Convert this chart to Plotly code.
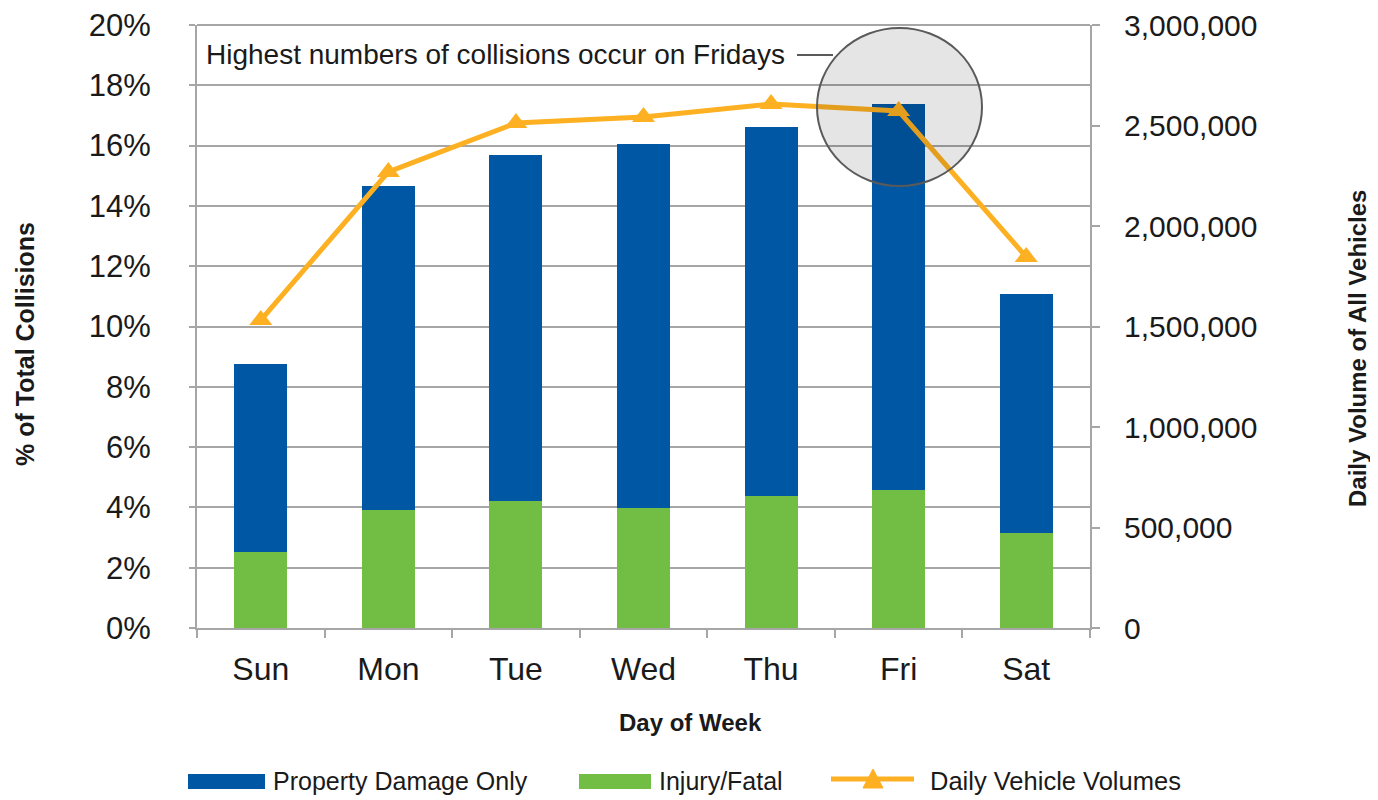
import plotly.graph_objects as go

days = ["Sun", "Mon", "Tue", "Wed", "Thu", "Fri", "Sat"]
injury_fatal = [2.52, 3.91, 4.21, 3.98, 4.38, 4.58, 3.15]
property_damage = [6.24, 10.75, 11.48, 12.07, 12.24, 12.80, 7.93]
daily_volumes = [1532000, 2269000, 2512000, 2542000, 2607000, 2572000, 1846000]

left_ticks = list(range(0, 21, 2))
left_ticktext = [f"{v}%" for v in left_ticks]
right_ticks = [0, 500000, 1000000, 1500000, 2000000, 2500000, 3000000]
right_ticktext = ["0", "500,000", "1,000,000", "1,500,000", "2,000,000", "2,500,000", "3,000,000"]

BLUE = "#0057A4"
GREEN = "#72BE44"
ORANGE = "#FDB022"
GRID = "#A6A6A6"
TXT = "#1A1A1A"
REG = "Liberation Sans, Arial, sans-serif"

# page offset (browser body margin)
OFF = 8
# plot area in reference pixel coordinates
PL, PR, PT, PB = 197, 1090, 25, 628
PW = PR - PL
PH = PB - PT
W, H = 1378 - 2 * OFF, 800 - OFF
mL = PL - OFF
mT = PT - OFF
mR = W - mL - PW
mB = H - mT - PH


def px(x):
    return (x - PL) / PW


def py(y):
    return (PB - y) / PH


fig = go.Figure()
fig.add_trace(go.Bar(x=days, y=injury_fatal, name="Injury/Fatal", marker=dict(color=GREEN, line=dict(width=0))))
fig.add_trace(go.Bar(x=days, y=property_damage, name="Property Damage Only", marker=dict(color=BLUE, line=dict(width=0))))
fig.add_trace(go.Scatter(x=days, y=daily_volumes, name="Daily Vehicle Volumes", yaxis="y2",
                         mode="lines+markers", line=dict(color=ORANGE, width=5),
                         marker=dict(symbol="triangle-up", size=20, color=ORANGE)))

shapes = []
annotations = []

# top border gridline (20%)
shapes.append(dict(type="line", xref="paper", yref="paper", layer="below",
                   x0=0, x1=1, y0=1, y1=1, line=dict(color=GRID, width=2)))

# highlight circle and connector
shapes.append(dict(type="circle", xref="paper", yref="paper", layer="above",
                   x0=px(817), x1=px(982), y0=py(186), y1=py(28),
                   fillcolor="rgba(0,0,0,0.1)", line=dict(color="#5A5A5A", width=2)))
shapes.append(dict(type="line", xref="paper", yref="paper", layer="above",
                   x0=px(797), x1=px(833), y0=py(55), y1=py(55),
                   line=dict(color="#5A5A5A", width=2)))
annotations.append(dict(text="Highest numbers of collisions occur on Fridays", xref="paper", yref="paper",
                        x=px(204), y=py(54), xanchor="left", yanchor="middle", showarrow=False,
                        font=dict(family=REG, size=28, color=TXT)))

# axis titles
annotations.append(dict(text="<b>% of Total Collisions</b>", xref="paper", yref="paper",
                        x=px(25), y=py(344), textangle=-90, showarrow=False,
                        xanchor="center", yanchor="middle",
                        font=dict(family=REG, size=25, color=TXT)))
annotations.append(dict(text="<b>Daily Volume of All Vehicles</b>", xref="paper", yref="paper",
                        x=px(1357), y=py(349), textangle=-90, showarrow=False,
                        xanchor="center", yanchor="middle",
                        font=dict(family=REG, size=24, color=TXT)))
annotations.append(dict(text="<b>Day of Week</b>", xref="paper", yref="paper",
                        x=px(690), y=py(722), showarrow=False,
                        xanchor="center", yanchor="middle",
                        font=dict(family=REG, size=24, color=TXT)))

# custom legend
LY = 781
shapes.append(dict(type="rect", xref="paper", yref="paper", x0=px(188), x1=px(265), y0=py(789), y1=py(774),
                   fillcolor=BLUE, line=dict(width=0)))
annotations.append(dict(text="Property Damage Only", xref="paper", yref="paper", x=px(271), y=py(LY),
                        xanchor="left", yanchor="middle", showarrow=False,
                        font=dict(family=REG, size=25, color=TXT)))
shapes.append(dict(type="rect", xref="paper", yref="paper", x0=px(579), x1=px(651), y0=py(789), y1=py(774),
                   fillcolor=GREEN, line=dict(width=0)))
annotations.append(dict(text="Injury/Fatal", xref="paper", yref="paper", x=px(657), y=py(LY),
                        xanchor="left", yanchor="middle", showarrow=False,
                        font=dict(family=REG, size=25, color=TXT)))
shapes.append(dict(type="line", xref="paper", yref="paper", x0=px(831), x1=px(914), y0=py(779), y1=py(779),
                   line=dict(color=ORANGE, width=5)))
tx, ty = 873, 779
shapes.append(dict(type="path", xref="paper", yref="paper",
                   path=f"M {px(tx-10)} {py(ty+9)} L {px(tx+10)} {py(ty+9)} L {px(tx)} {py(ty-10)} Z",
                   fillcolor=ORANGE, line=dict(color=ORANGE, width=1)))
annotations.append(dict(text="Daily Vehicle Volumes", xref="paper", yref="paper", x=px(928), y=py(LY),
                        xanchor="left", yanchor="middle", showarrow=False,
                        font=dict(family=REG, size=25.5, color=TXT)))

fig.update_layout(
    width=W, height=H, autosize=False,
    margin=dict(l=mL, r=mR, t=mT, b=mB, pad=0, autoexpand=False),
    paper_bgcolor="white", plot_bgcolor="white",
    barmode="stack", bargap=0.585,
    showlegend=False,
    font=dict(family=REG, color=TXT),
    xaxis=dict(type="category", automargin=False, showgrid=False, showline=True, linecolor=GRID, linewidth=2,
               ticks="outside", tickson="boundaries", ticklen=8, tickwidth=2, tickcolor=GRID,
               tickfont=dict(family=REG, size=32, color=TXT), ticklabelstandoff=12),
    yaxis=dict(range=[0, 20], tickvals=left_ticks, ticktext=left_ticktext, automargin=False,
               ticklabeloverflow="allow",
               showgrid=True, gridcolor=GRID, gridwidth=2, zeroline=False,
               showline=True, linecolor=GRID, linewidth=2,
               ticks="outside", ticklen=6, tickwidth=2, tickcolor=GRID,
               tickfont=dict(family=REG, size=31, color=TXT), ticklabelstandoff=32),
    yaxis2=dict(range=[0, 3000000], tickvals=right_ticks, ticktext=right_ticktext, automargin=False,
                ticklabeloverflow="allow",
                overlaying="y", side="right", showgrid=False, zeroline=False,
                showline=True, linecolor=GRID, linewidth=2,
                ticks="outside", ticklen=8, tickwidth=2, tickcolor=GRID,
                tickfont=dict(family=REG, size=30, color=TXT), ticklabelstandoff=18),
    shapes=shapes,
    annotations=annotations,
)

fig.write_html("out.html")
